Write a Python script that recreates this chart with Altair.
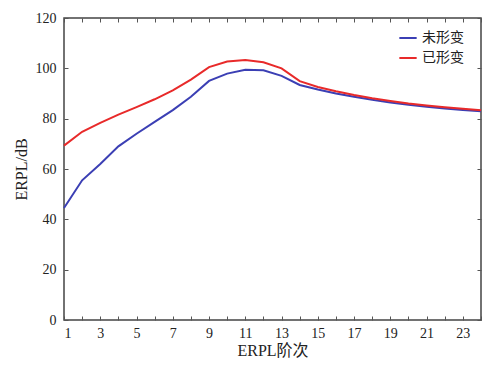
import altair as alt
import pandas as pd

orders = list(range(1, 25))
undeformed = [44.5, 55.5, 62.0, 69.0, 74.0, 78.7, 83.4, 88.7, 95.0, 97.9, 99.4, 99.2,
              97.0, 93.4, 91.6, 90.0, 88.7, 87.5, 86.4, 85.5, 84.7, 84.0, 83.4, 82.9]
deformed = [69.3, 74.8, 78.3, 81.6, 84.6, 87.7, 91.2, 95.5, 100.5, 102.7, 103.3, 102.4,
            100.0, 94.9, 92.6, 90.9, 89.4, 88.1, 87.0, 86.0, 85.2, 84.5, 83.9, 83.3]
series_names = ["未形变", "已形变"]
colors = ["#3b3fb4", "#e82a2a"]
x_ticks = list(range(1, 25))
y_ticks = [0, 20, 40, 60, 80, 100, 120]

df = pd.DataFrame({
    "order": orders * 2,
    "value": undeformed + deformed,
    "series": [series_names[0]] * len(orders) + [series_names[1]] * len(orders),
})

FONT = "Liberation Serif, Noto Sans CJK SC"
tick_len = 4
axis_common = dict(domain=False, ticks=True, tickSize=tick_len, tickColor="#555",
                   tickWidth=1, grid=False, labelFont=FONT, labelFontSize=14,
                   labelColor="#222", titleFont=FONT, titleFontSize=16,
                   titleColor="#222", titleFontWeight="normal", offset=-tick_len)

xscale = alt.Scale(domain=[1, 24], nice=False, zero=False)
yscale = alt.Scale(domain=[0, 120], nice=False)

lines = alt.Chart(df).mark_line(strokeWidth=2).encode(
    x=alt.X("order:Q", scale=xscale, title="ERPL阶次",
            axis=alt.Axis(values=x_ticks, orient="bottom",
                          labelExpr="datum.value % 2 == 1 ? datum.label : ''",
                          labelPadding=2 + tick_len, titlePadding=2, **axis_common)),
    y=alt.Y("value:Q", scale=yscale, title="ERPL/dB",
            axis=alt.Axis(values=y_ticks, orient="left", labelPadding=4 + tick_len,
                          titlePadding=6, **axis_common)),
    color=alt.Color("series:N", scale=alt.Scale(domain=series_names, range=colors),
                    legend=alt.Legend(title=None, orient="none", legendX=334, legendY=10,
                                      symbolType="stroke", symbolStrokeWidth=2,
                                      symbolSize=300, labelFont=FONT, labelFontSize=14,
                                      labelColor="#222", rowPadding=3)),
)

frame = alt.Chart(df).mark_line(opacity=0).encode(
    x=alt.X("order:Q", scale=xscale,
            axis=alt.Axis(values=x_ticks, orient="top", labels=False, title=None, **axis_common)),
    y=alt.Y("value:Q", scale=yscale,
            axis=alt.Axis(values=y_ticks, orient="right", labels=False, title=None, **axis_common)),
    detail="series:N",
)

chart = alt.layer(lines, frame).resolve_axis(x="independent", y="independent").properties(
    width=417, height=302,
    padding={"left": 64, "top": 18, "right": 2, "bottom": 49},
    autosize=alt.AutoSizeParams(type="none"),
    background="white",
).configure_view(stroke="#444", strokeWidth=1.5)

chart.save("out.html", embed_options={"renderer": "svg", "actions": False})
